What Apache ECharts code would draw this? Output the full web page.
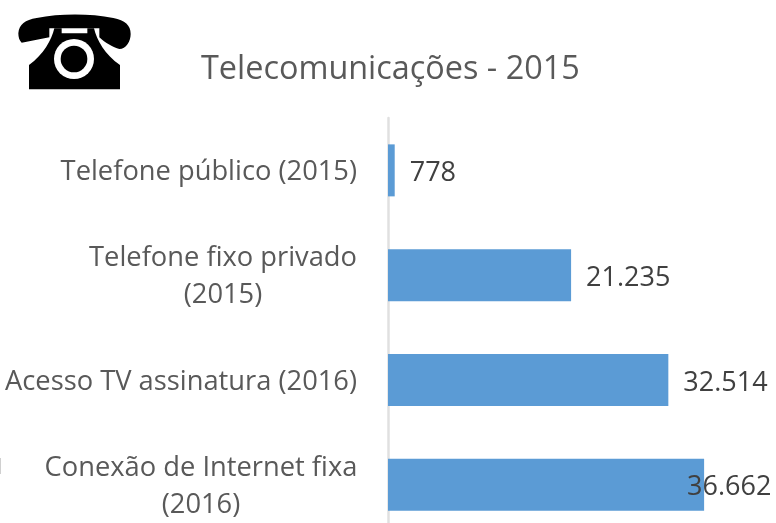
<!DOCTYPE html>
<html><head><meta charset="utf-8">
<style>html,body{margin:0;padding:0;background:#fff}#c{width:776px;height:523px}</style>
<script src="https://cdn.jsdelivr.net/npm/echarts@6/dist/echarts.min.js"></script>
</head><body><div id="c"></div>
<script>
const categories = ["Telefone público (2015)","Telefone fixo privado\n(2015)","Acesso TV assinatura (2016)","Conexão de Internet fixa\n(2016)"];
const values = [778,21235,32514,36662];
const valueLabels = ["778","21.235","32.514","36.662"];
const titleText = "Telecomunicações - 2015";
const font = '"Open Sans","Noto Sans",sans-serif';
const handset = "M55 100C58 72 75 60 110 54C180 40 270 40 340 54C375 62 392 75 392 102C392 125 378 147 358 147C340 143 315 128 298 112L298 85L148 85L148 112L65 128C58 122 55 112 55 100Z";
const body = "M185 85L185 100L262 100L262 85L282 85C290 120 315 165 360 195L360 268L87 268L87 195C130 165 155 120 163 85Z";
echarts.graphic.registerShape('phoneHandset', echarts.graphic.extendPath(handset));
echarts.graphic.registerShape('phoneBody', echarts.graphic.extendPath(body));
const tickFont = {fontFamily:font,fontSize:27.3,color:'#595959',lineHeight:37,align:'center'};
const chart = echarts.init(document.getElementById('c'),null,{renderer:'canvas'});
chart.setOption({
  animation:false,
  title:{text:titleText,left:196,top:49,textStyle:{fontFamily:font,fontSize:32.4,fontWeight:'normal',color:'#595959'}},
  grid:{left:388,top:118,width:388,height:419,containLabel:false,outerBoundsMode:'none'},
  xAxis:{type:'value',min:0,max:45000,show:false},
  yAxis:{type:'category',inverse:true,data:categories,
    axisLine:{show:true,lineStyle:{color:'#e0e0e0',width:2.5}},axisTick:{show:false},
    axisLabel:{fontFamily:font,fontSize:27.3,color:'#595959',margin:31,lineHeight:37,align:'right',padding:[4,0,0,0],
      formatter:v=>{
        const lines=v.split('\n');
        if(lines.length===1) return v;
        const key=lines[0].startsWith('Conex')?'wide':'narrow';
        return lines.map(l=>`{${key}|${l}}`).join('\n');
      },
      rich:{wide:{...tickFont,width:312},narrow:{...tickFont,width:268}}}},
  series:[{type:'bar',data:values.map((v,i)=>i===3?{value:v,label:{distance:-16}}:v),barWidth:52,itemStyle:{color:'#5b9bd5'},
    label:{show:true,position:'right',distance:16,offset:[-1,3],fontFamily:font,fontSize:27,color:'#404040',
      formatter:p=>valueLabels[p.dataIndex]}}],
  graphic:[
    {type:'group',x:0,y:0,scaleX:1/3,scaleY:1/3,children:[
      {type:'phoneHandset',style:{fill:'#000'}},
      {type:'phoneBody',style:{fill:'#000'}},
      {type:'circle',shape:{cx:222,cy:177,r:60},style:{fill:'#fff'}},
      {type:'circle',shape:{cx:222,cy:177,r:40},style:{fill:'#000'}}
    ]},
    {type:'rect',shape:{x:0,y:458,width:1,height:16},style:{fill:'#d0d0d0'}}
  ]
});
</script></body></html>
